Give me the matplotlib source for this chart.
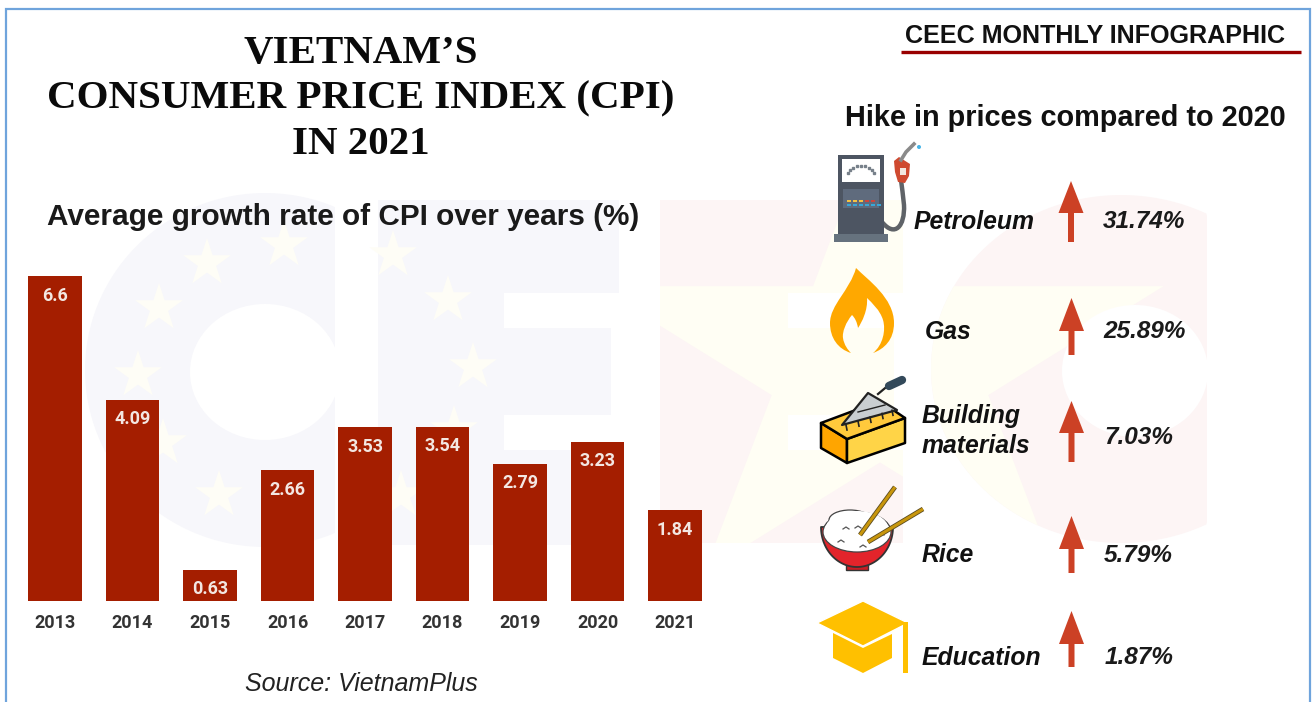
import numpy as np
import matplotlib
matplotlib.use('Agg')
import matplotlib.pyplot as plt
from matplotlib.patches import Polygon, Rectangle, Ellipse, PathPatch, Circle
from matplotlib.path import Path

years = ['2013', '2014', '2015', '2016', '2017', '2018', '2019', '2020', '2021']
cpi_growth = [6.6, 4.09, 0.63, 2.66, 3.53, 3.54, 2.79, 3.23, 1.84]

hike_items = ['Petroleum', 'Gas', 'Building\nmaterials', 'Rice', 'Education']
hike_pcts = ['31.74%', '25.89%', '7.03%', '5.79%', '1.87%']

W, H = 1312, 702
fig = plt.figure(figsize=(W / 100, H / 100), dpi=100, facecolor='white')

# background layer in pixel coords, y going down like the picture
bg = fig.add_axes([0, 0, 1, 1], zorder=0)
bg.set_xlim(0, W)
bg.set_ylim(H, 0)
bg.axis('off')

# top layer for text and icons
top = fig.add_axes([0, 0, 1, 1], zorder=3)
top.set_xlim(0, W)
top.set_ylim(H, 0)
top.axis('off')
top.patch.set_alpha(0)


def star_pts(cx, cy, rx, ry=None):
    ry = rx if ry is None else ry
    pts = []
    for i in range(10):
        r = 1 if i % 2 == 0 else 0.382
        a = np.radians(-90 + 36 * i)
        pts.append((cx + rx * r * np.cos(a), cy + ry * r * np.sin(a)))
    return pts


def e_shape(x0, x1, x2, y0, y1, y2, y3, y4, y5, x3):
    # block letter E, arms at y0-y1, y2-y3, y4-y5
    return [(x0, y0), (x1, y0), (x1, y1), (x2, y1), (x2, y2), (x3, y2), (x3, y3), (x2, y3),
            (x2, y4), (x1, y4), (x1, y5), (x0, y5)]


def c_outline(cx, cy, rx, ry, xclip):
    t = np.linspace(0, 2 * np.pi, 200)
    return np.column_stack([np.minimum(cx + rx * np.cos(t), xclip), cy + ry * np.sin(t)])


# left "CE" of the watermark
grey = '#f7f7fb'
bg.add_patch(Polygon(c_outline(265, 370, 180, 177, 335), fc=grey, ec='none', zorder=1))
bg.add_patch(Ellipse((265, 372), 150, 136, fc='white', ec='none', zorder=1.2))
bg.add_patch(Polygon(e_shape(378, 619, 504, 200, 293, 328, 415, 450, 545, 611), fc=grey, ec='none', zorder=1))
star_x = [207, 284, 159, 138, 163, 219, 393, 448, 473, 454, 401, 290]
star_y = [263, 245, 308, 375, 443, 495, 255, 300, 367, 430, 495, 513]
for sx, sy in zip(star_x, star_y):
    bg.add_patch(Polygon(star_pts(sx, sy, 25), fc='#fefdf6', ec='none', zorder=2))

# right "EC" with the big yellow star clipped to the letters
pink = '#fdf5f5'
e_pink = Polygon(e_shape(660, 903, 788, 200, 293, 328, 415, 450, 543, 894), fc=pink, ec='none', zorder=1)
bg.add_patch(e_pink)
c_pink = Polygon(c_outline(1121, 369, 190, 174, 1207), fc=pink, ec='none', zorder=1)
bg.add_patch(c_pink)
big_star = star_pts(880, 365, 298, 255)
star_a = Polygon(big_star, fc='#fffef4', ec='none', zorder=1.1)
bg.add_patch(star_a)
star_a.set_clip_path(e_pink)
star_b = Polygon(big_star, fc='#fffef4', ec='none', zorder=1.1)
bg.add_patch(star_b)
star_b.set_clip_path(c_pink)
bg.add_patch(Ellipse((1135, 371), 146, 132, fc='white', ec='none', zorder=1.2))

# frame
top.plot([6, 6, 1310, 1310], [702, 8.5, 8.5, 702], color='#6fa4dc', lw=1.6, solid_joinstyle='miter')

# bar chart
ax_l, ax_r = 16.25 / W, 713.75 / W
ax_b, ax_h = (H - 601) / H, 344.5 / H
ax = fig.add_axes([ax_l, ax_b, ax_r - ax_l, ax_h], zorder=2)
ax.patch.set_alpha(0)
x = np.arange(len(years))
bars = ax.bar(x, cpi_growth, width=0.685, color='#a41e00')
ax.set_xlim(-0.5, 8.5)
ax.set_ylim(0, 7)
ax.set_xticks(x)
ax.set_xticklabels(years, fontfamily='Roboto', fontweight='bold', fontsize=13, color='#333333')
ax.tick_params(axis='x', length=0, pad=9)
ax.set_yticks([])
for s in ax.spines.values():
    s.set_visible(False)
for xi, v in zip(x, cpi_growth):
    ax.annotate(str(v), (xi, v), xytext=(0, -14), textcoords='offset points', ha='center', va='center',
                fontfamily='Roboto', fontweight='bold', fontsize=13, color='#f3e7e2')

# titles
for line, y in zip(["VIETNAM\u2019S", 'CONSUMER PRICE INDEX (CPI)', 'IN 2021'], [54, 99, 144]):
    top.text(361, y, line, ha='center', va='center', family='Liberation Serif', fontweight='bold',
             fontsize=29.5, color='#0a0a0a')
top.text(47, 217, 'Average growth rate of CPI over years (%)', ha='left', va='center',
         family='Liberation Sans', fontweight='bold', fontsize=21.4, color='#1a1a1a')
top.text(905, 36, 'CEEC MONTHLY INFOGRAPHIC', ha='left', va='center', family='Liberation Sans',
         fontweight='bold', fontsize=18.1, color='#111111')
top.plot([901, 1301], [52, 52], color='#990000', lw=2.4, solid_capstyle='butt')
top.text(845, 118, 'Hike in prices compared to 2020', ha='left', va='center', family='Liberation Sans',
         fontweight='bold', fontsize=20.8, color='#111111')
top.text(245, 684, 'Source: VietnamPlus', ha='left', va='center', family='Liberation Sans',
         style='italic', fontsize=18, color='#222222')

# right hand list
label_x = [914, 925, 922, 922, 922]
label_y = [222, 332, 431, 555, 658]
pct_x = [1103, 1103, 1104, 1104, 1105]
pct_y = [222, 332, 437, 555, 658]
arrow_x = [1071, 1071.5, 1071.5, 1071.5, 1071.5]
arrow_y = [(181, 213, 242), (298, 331, 355), (401, 433, 462), (516, 549, 573), (611, 644, 667)]
for i, name in enumerate(hike_items):
    top.text(label_x[i], label_y[i], name, ha='left', va='center', family='Liberation Sans', fontweight='bold',
             style='italic', fontsize=17.8, color='#111111', linespacing=1.28)
    top.text(pct_x[i], pct_y[i], hike_pcts[i], ha='left', va='center', family='Liberation Sans',
             fontweight='bold', style='italic', fontsize=17.6, color='#1a1a1a')
    ar, (a, b, c) = arrow_x[i], arrow_y[i]
    top.add_patch(Polygon([(ar, a), (ar + 12.5, b), (ar + 3, b), (ar + 3, c), (ar - 3, c), (ar - 3, b),
                           (ar - 12.5, b)], fc='#cc4125', ec='none'))

# petrol pump
top.add_patch(PathPatch(Path([(882, 222), (895, 238), (905, 226), (904, 205), (903, 195), (902, 188), (901, 180)],
                             [Path.MOVETO] + [Path.CURVE4] * 6),
                        fc='none', ec='#5f6368', lw=3.2))
top.add_patch(Rectangle((838, 155), 46, 79, fc='#4d5562', ec='none'))
top.add_patch(Rectangle((834, 234), 54, 8, fc='#66727e', ec='none'))
top.add_patch(Rectangle((842, 159), 38, 23, fc='white', ec='none'))
top.add_patch(Rectangle((843, 189), 36, 19, fc='#5f6b7d', ec='none'))
for i in range(9):
    a = np.radians(200 + i * 17.5)
    top.plot(861 + 14 * np.cos(a), 176 + 10 * np.sin(a), marker='s', ms=1.6, color='#77808a')
for i, c in enumerate(['#f5c242', '#f5c242', '#f5c242', '#d0453a', '#d0453a']):
    top.add_patch(Rectangle((847 + i * 6, 199.5), 4, 2.2, fc=c, ec='none'))
for i in range(6):
    top.add_patch(Rectangle((847 + i * 6, 204), 4, 2.2, fc='#38a8d8', ec='none'))
top.plot([901, 906, 914], [160, 152, 144], color='#8a8a8a', lw=2.6)
top.add_patch(Polygon([(894, 161), (899, 157), (910, 164), (909, 176), (905, 183), (898, 182), (895, 172)],
                      fc='#cf4a30', ec='none'))
top.add_patch(Rectangle((900, 168), 6, 7, fc='#f2e8e0', ec='none'))
top.add_patch(Circle((919, 147), 2, fc='#45b4e8', ec='none'))

# flame
flame = Path([(856, 268), (868, 280), (894, 298), (894, 323), (894, 340), (884, 349), (873, 353),
              (883, 345), (886, 330), (883, 320), (880, 310), (872, 303), (867, 298),
              (868, 310), (862, 322), (858, 328), (857, 322), (855, 318), (852, 315),
              (846, 322), (842, 332), (843, 338), (844, 345), (848, 350), (851, 353),
              (838, 349), (830, 338), (830, 323), (830, 305), (850, 290), (856, 268)],
             [Path.MOVETO] + [Path.CURVE4] * 30)
top.add_patch(PathPatch(flame, fc='#ffa800', ec='none'))

# brick and trowel
top.add_patch(Polygon([(821, 423), (847, 439), (847, 463), (821, 448)], fc='#ffa500', ec='black', lw=1.8, joinstyle='round'))
top.add_patch(Polygon([(847, 439), (905, 418), (905, 443), (847, 463)], fc='#ffd447', ec='black', lw=1.8, joinstyle='round'))
top.add_patch(Polygon([(821, 423), (880, 401), (905, 418), (847, 439)], fc='#ffc93c', ec='black', lw=1.8, joinstyle='round'))
top.add_patch(Polygon([(842, 425), (868, 393), (897, 410)], fc='#c9ced1', ec='#222222', lw=1.6, joinstyle='round'))
top.plot([858, 885], [412, 405], color='#222222', lw=1)
top.plot([878, 890], [394, 384], color='#222222', lw=1.6)
top.plot([889, 902], [386, 380], color='#33495a', lw=6, solid_capstyle='round')
for tx in [846, 858, 870, 882, 892]:
    top.plot([tx, tx + 1], [425 - (tx - 846) * 0.32, 430 - (tx - 846) * 0.32], color='#222222', lw=1.2)

# rice bowl
t = np.linspace(0, np.pi, 60)
bowl_xy = np.column_stack([857 + 36 * np.cos(t), 527 + 40 * np.sin(t)])
top.add_patch(Rectangle((846, 562), 22, 8, fc='#c81e25', ec='#333333', lw=1))
top.add_patch(Polygon(bowl_xy, fc='#e3242b', ec='#333333', lw=1.3, joinstyle='round'))
top.add_patch(Ellipse((857, 532), 68, 40, fc='white', ec='#444444', lw=0.9))
top.add_patch(Ellipse((850, 520), 42, 20, fc='white', ec='#444444', lw=0.9))
top.add_patch(Ellipse((857, 528), 62, 34, fc='white', ec='none'))
for rx, ry in [(838, 540), (855, 526), (843, 527), (860, 545), (878, 533)]:
    top.plot([rx, rx + 3, rx + 6], [ry + 2, ry, ry + 2], color='#555555', lw=0.9)
for p in [((860, 535), (895, 487)), ((868, 542), (923, 509))]:
    top.plot([p[0][0], p[1][0]], [p[0][1], p[1][1]], color='#5a4a20', lw=3.4, solid_capstyle='butt')
    top.plot([p[0][0], p[1][0]], [p[0][1], p[1][1]], color='#c8960c', lw=2.2, solid_capstyle='butt')

# graduation cap
cap_c = '#ffc000'
top.add_patch(Polygon([(833, 633), (863, 648), (892, 634), (892, 658), (863, 673), (833, 658)], fc=cap_c, ec='none'))
top.add_patch(Polygon([(817, 623), (863, 601), (908, 623), (863, 646)], fc=cap_c, ec='white', lw=1))
top.add_patch(Rectangle((903, 622), 5, 51, fc=cap_c, ec='none'))

fig.savefig('out.png', dpi=100, facecolor='white')
